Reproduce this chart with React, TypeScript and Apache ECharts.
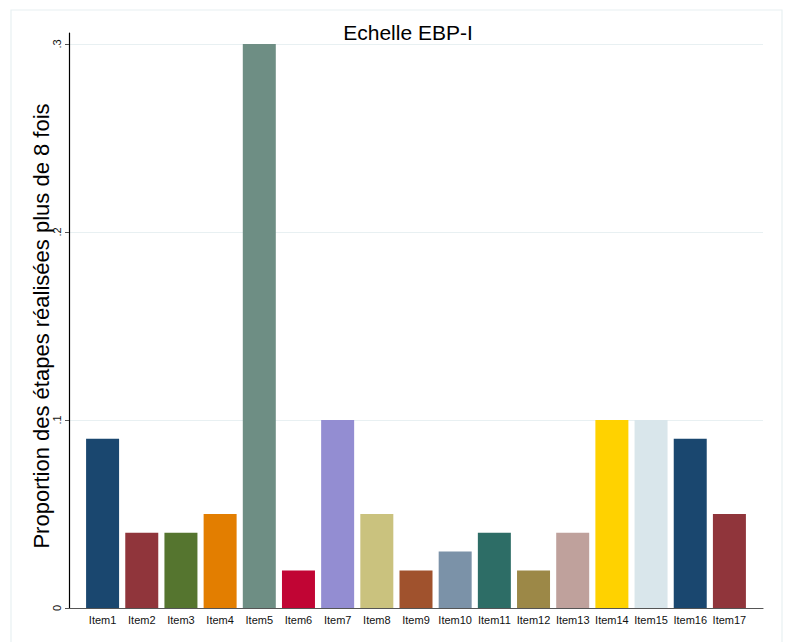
import React, { useEffect, useRef } from "react";
import * as echarts from "echarts";

const categories = ["Item1", "Item2", "Item3", "Item4", "Item5", "Item6", "Item7", "Item8", "Item9", "Item10", "Item11", "Item12", "Item13", "Item14", "Item15", "Item16", "Item17"];
const values = [0.09, 0.04, 0.04, 0.05, 0.3, 0.02, 0.1, 0.05, 0.02, 0.03, 0.04, 0.02, 0.04, 0.1, 0.1, 0.09, 0.05];
const barColors = ["#1a476f", "#90353b", "#55752f", "#e37e00", "#6e8e84", "#c10534", "#938dd2", "#cac27e", "#a0522d", "#7b92a8", "#2d6d66", "#9c8847", "#bfa19c", "#ffd200", "#d9e6eb", "#1a476f", "#90353b"];
const titleText = "Echelle EBP-I";
const yTitle = "Proportion des étapes réalisées plus de 8 fois";
const yMax = 0.3;
const yLineMax = 0.306;

const FONT = "'Liberation Sans', Arial, Helvetica, sans-serif";

export default function App() {
  const ref = useRef<HTMLDivElement>(null);
  useEffect(() => {
    if (!ref.current) return;
    const chart = echarts.init(ref.current, null, { renderer: "svg" });
    const fmt = (v: number) => {
      const r = Math.round(v * 10) / 10;
      if (Math.abs(v - r) > 1e-6) return "";
      if (r === 0) return "0";
      return "." + Math.round(r * 10);
    };
    chart.setOption({
      animation: false,
      backgroundColor: "#ffffff",
      textStyle: { fontFamily: FONT },
      graphic: [
        {
          type: "rect",
          shape: { x: 11, y: 10, width: 771, height: 645 },
          style: { fill: "none", stroke: "#e8f0f2", lineWidth: 1.2 },
          z: -10,
        },
        {
          type: "text",
          x: 408,
          y: 22,
          style: { text: titleText, fontSize: 21, fontFamily: FONT, fill: "#000", textAlign: "center", textVerticalAlign: "top" },
        },
      ],
      grid: [
        { left: 83, right: 43, top: 44, bottom: 34 },
        { left: 69, right: 29, top: 44, bottom: 34 },
        { left: 69, right: 29, top: 33, bottom: 34 },
      ],
      xAxis: [
        {
          type: "category",
          gridIndex: 0,
          data: categories,
          boundaryGap: true,
          axisLine: { show: false },
          axisTick: { show: false },
          axisLabel: { fontSize: 11, color: "#111", margin: 6, interval: 0, fontFamily: FONT },
        },
        {
          type: "value",
          gridIndex: 1,
          min: 0,
          max: 1,
          axisLine: { show: true, lineStyle: { color: "#555", width: 1.2 } },
          axisTick: { show: false },
          axisLabel: { show: false },
          splitLine: { show: false },
        },
        {
          type: "value",
          gridIndex: 2,
          min: 0,
          max: 1,
          show: false,
        },
      ],
      yAxis: [
        {
          type: "value",
          gridIndex: 0,
          min: 0,
          max: yMax,
          show: false,
          splitLine: { show: false },
        },
        {
          type: "value",
          gridIndex: 1,
          min: 0,
          max: yMax,
          interval: 0.1,
          axisLine: { show: false },
          axisTick: { show: true, length: 4, lineStyle: { color: "#555" } },
          axisLabel: { rotate: 90, fontSize: 11, color: "#111", margin: 7, formatter: fmt, fontFamily: FONT },
          splitLine: { show: true, lineStyle: { color: "#e8f0f2", width: 1 } },
          name: yTitle,
          nameLocation: "middle",
          nameRotate: 90,
          nameGap: 17,
          nameMoveOverlap: false,
          nameTextStyle: { fontSize: 22, color: "#000", fontFamily: FONT },
        },
        {
          type: "value",
          gridIndex: 2,
          min: 0,
          max: yLineMax,
          axisLine: { show: true, lineStyle: { color: "#000", width: 1.2 } },
          axisTick: { show: false },
          axisLabel: { show: false },
          splitLine: { show: false },
        },
      ],
      series: [
        {
          type: "bar",
          xAxisIndex: 0,
          yAxisIndex: 0,
          barWidth: 33,
          data: values.map((v, i) => ({ value: v, itemStyle: { color: barColors[i] } })),
        },
      ],
    });
    return () => chart.dispose();
  }, []);
  return <div ref={ref} style={{ position: "fixed", left: 0, top: 0, width: 792, height: 642 }} />;
}
